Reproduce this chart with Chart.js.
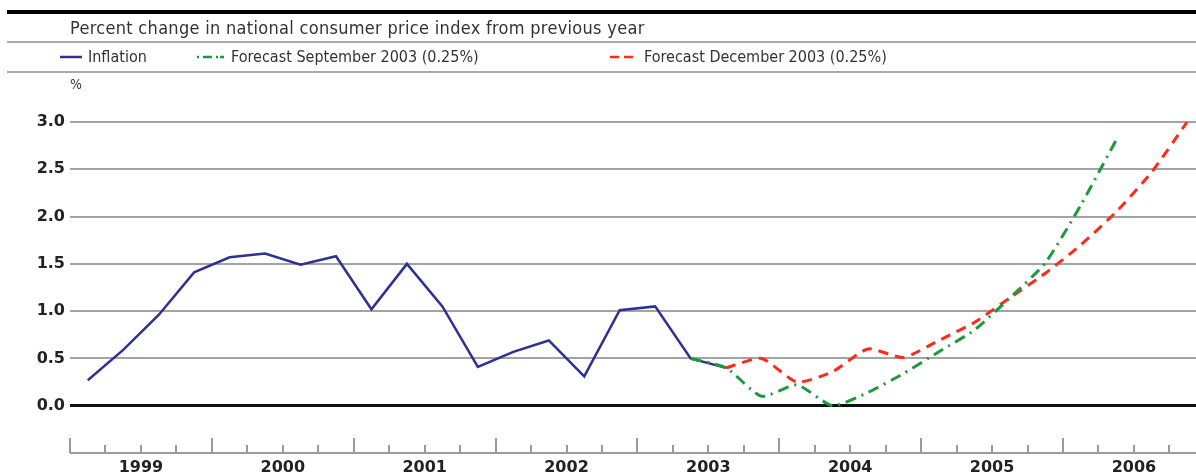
<!DOCTYPE html>
<html>
<head>
<meta charset="utf-8">
<script src="https://cdn.jsdelivr.net/npm/chart.js@4"></script>
<style>
  html, body { margin: 0; padding: 0; background: #fff; overflow: hidden; }
  #wrap { position: relative; width: 1196px; height: 476px; }
  #chart { position: absolute; left: 0; top: 0; }
  .rule { position: absolute; left: 7px; right: 0; }
  .txt { position: absolute; font-family: "DejaVu Sans Condensed", "DejaVu Sans", sans-serif; font-size: 16px; color: #333; white-space: nowrap; }
  .leg { position: absolute; top: 47px; display: flex; align-items: center; font-family: "DejaVu Sans Condensed", "DejaVu Sans", sans-serif; font-size: 16px; color: #333; white-space: nowrap; }
  .leg svg { margin-right: 6px; }
</style>
</head>
<body>
<div id="wrap">
  <canvas id="chart" width="1196" height="476"></canvas>
  <div class="rule" style="top:10px;height:4px;background:#000"></div>
  <div class="txt" style="left:70px;top:17px;font-size:18px;letter-spacing:0.3px">Percent change in national consumer price index from previous year</div>
  <div class="rule" style="top:41px;height:2px;background:#aaa"></div>
  <div id="legend"></div>
  <div class="rule" style="top:71px;height:2px;background:#aaa"></div>
  <div class="txt" style="left:70px;top:76px;font-size:14px">%</div>
</div>
<script>
// quarterly values, first quarter of 1999 = index 0
const years = ['1999', '2000', '2001', '2002', '2003', '2004', '2005', '2006']
const yTicks = [0.0, 0.5, 1.0, 1.5, 2.0, 2.5, 3.0]

const inflation = [0.27, 0.59, 0.96, 1.41, 1.57, 1.61, 1.49, 1.58, 1.02, 1.50, 1.05, 0.41,
                   0.57, 0.69, 0.31, 1.01, 1.05, 0.50, 0.40]
const inflationStart = 0

const forecastSep = [0.50, 0.40, 0.10, 0.22, 0.00, 0.14, 0.34, 0.57, 0.80, 1.14, 1.51, 2.12, 2.81]
const forecastSepStart = 17

const forecastDec = [0.40, 0.50, 0.25, 0.36, 0.60, 0.51, 0.69, 0.88, 1.14, 1.40, 1.70, 2.05, 2.47, 3.00]
const forecastDecStart = 18

const series = [
    { label: 'Inflation', values: inflation, start: inflationStart, color: '#2e3192', dash: [], width: 2.5, order: 3, tension: 0 },
    { label: 'Forecast September 2003 (0.25%)', values: forecastSep, start: forecastSepStart, color: '#1b9a3c', dash: [11, 6, 2, 6], width: 3, order: 1, tension: 0.2 },
    { label: 'Forecast December 2003 (0.25%)', values: forecastDec, start: forecastDecStart, color: '#ff2a1a', dash: [10, 7], width: 3, order: 2, tension: 0.2 }
]

// legend
const legendX = [60, 197, 610]
const legend = document.getElementById('legend')
series.forEach((s, i) => {
    const item = document.createElement('div')
    item.className = 'leg'
    item.style.left = legendX[i] + 'px'
    const w = i === 0 ? 22 : 28
    item.innerHTML = '<svg width="' + w + '" height="6"><line x1="0" y1="3" x2="' + w + '" y2="3" stroke="' + s.color +
        '" stroke-width="2.5" stroke-dasharray="' + (i === 1 ? '2 4 9 4 2' : i === 2 ? '9 5' : '') + '"/></svg>' + s.label
    legend.appendChild(item)
})

const xAxisPlugin = {
    id: 'xAxisPlugin',
    afterDraw(chart) {
        const ctx = chart.ctx
        const x = chart.scales.x
        const area = chart.chartArea
        const base = area.bottom
        ctx.save()
        ctx.strokeStyle = '#9a9a9a'
        ctx.lineWidth = 2
        ctx.beginPath()
        ctx.moveTo(area.left, base)
        ctx.lineTo(area.right, base)
        for (let q = 0; q <= years.length * 4; q++) {
            const px = Math.round(x.getPixelForValue(q))
            if (px > area.right) break
            const len = q % 4 === 0 ? 15 : 8
            ctx.moveTo(px, base)
            ctx.lineTo(px, base - len)
        }
        ctx.stroke()
        ctx.fillStyle = '#222'
        ctx.font = 'bold 16px "DejaVu Sans", sans-serif'
        ctx.textAlign = 'center'
        ctx.textBaseline = 'middle'
        years.forEach((y, i) => {
            ctx.fillText(y, x.getPixelForValue(i * 4 + 2), base + 15)
        })
        ctx.restore()
    }
}

new Chart(document.getElementById('chart'), {
    type: 'line',
    data: {
        datasets: series.map(s => ({
            label: s.label,
            data: s.values.map((v, i) => ({ x: s.start + i + 0.5, y: v })),
            borderColor: s.color,
            borderWidth: s.width,
            borderDash: s.dash,
            pointRadius: 0,
            tension: s.tension,
            order: s.order,
            fill: false
        }))
    },
    options: {
        responsive: false,
        animation: false,
        layout: { padding: { top: 122, bottom: 23, left: 0, right: 0 } },
        plugins: { legend: { display: false }, tooltip: { enabled: false } },
        scales: {
            x: {
                type: 'linear',
                min: 0,
                max: 31.75,
                display: false
            },
            y: {
                min: -0.5,
                max: 3.0,
                afterFit(scale) { scale.width = 70 },
                afterBuildTicks(scale) {
                    scale.ticks = [-0.5].concat(yTicks).map(v => ({ value: v }))
                },
                border: { display: false },
                grid: {
                    drawTicks: false,
                    color: c => c.tick.value === -0.5 ? 'rgba(0,0,0,0)' : (c.tick.value === 0 ? '#111' : '#a3a3a3'),
                    lineWidth: c => c.tick.value === 0 ? 3 : 2
                },
                ticks: {
                    padding: 5,
                    color: '#222',
                    font: { family: '"DejaVu Sans", sans-serif', weight: 'bold', size: 16 },
                    callback: v => v < 0 ? '' : v.toFixed(1)
                }
            }
        }
    },
    plugins: [xAxisPlugin]
})
</script>
</body>
</html>
